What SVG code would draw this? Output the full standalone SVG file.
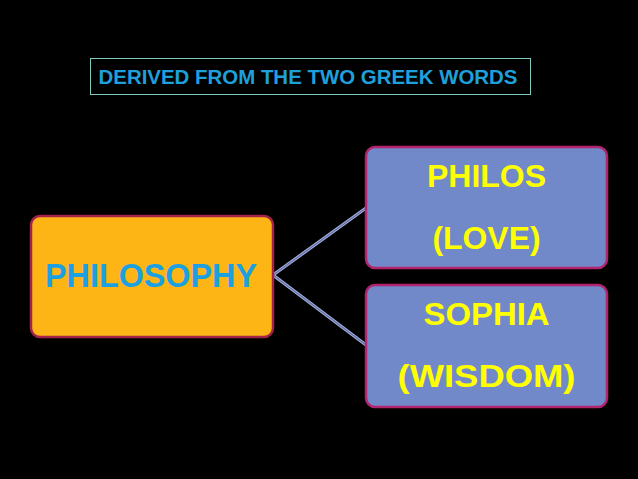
<svg xmlns="http://www.w3.org/2000/svg" width="638" height="479" viewBox="0 0 638 479">
<style>
.t{font-family:"Liberation Sans",Arial,sans-serif;font-weight:bold;text-anchor:middle}
.y{fill:#FFFF00;font-size:32px}
.blue{fill:#7189C8;stroke:#B3246E;stroke-width:2.5}
.c1{stroke:#A8B2D8;stroke-width:3.2;fill:none}
.c2{stroke:#5F6FB0;stroke-width:1.2;fill:none}
</style>
<rect x="0" y="0" width="638" height="479" fill="#000"/>
<g id="title">
<rect x="90.5" y="58.5" width="440" height="36" fill="none" stroke="#7FC8C0" stroke-width="1"/>
<text class="t" x="308" y="84" font-size="20.5" fill="#1EA0DC" textLength="419" lengthAdjust="spacingAndGlyphs">DERIVED FROM THE TWO GREEK WORDS</text>
</g>
<g id="connectors">
<polyline class="c1" points="366,208 273,275 366,345"/>
<polyline class="c2" points="366,208 273,275 366,345"/>
</g>
<g id="philosophy">
<rect x="31" y="216" width="242" height="121" rx="9" fill="#FDB515" stroke="#A3234A" stroke-width="2.5"/>
<text class="t" x="151" y="287" font-size="33" fill="#1BA1E2" textLength="212" lengthAdjust="spacingAndGlyphs">PHILOSOPHY</text>
</g>
<g id="philos">
<rect class="blue" x="366" y="147" width="241" height="121" rx="9"/>
<text class="t y" x="486.5" y="187" textLength="119" lengthAdjust="spacingAndGlyphs">PHILOS</text>
<text class="t y" x="486.5" y="249" textLength="108" lengthAdjust="spacingAndGlyphs">(LOVE)</text>
</g>
<g id="sophia">
<rect class="blue" x="366" y="285" width="241" height="122" rx="9"/>
<text class="t y" x="486.5" y="325" textLength="126" lengthAdjust="spacingAndGlyphs">SOPHIA</text>
<text class="t y" x="486.5" y="387" textLength="178" lengthAdjust="spacingAndGlyphs">(WISDOM)</text>
</g>
</svg>
